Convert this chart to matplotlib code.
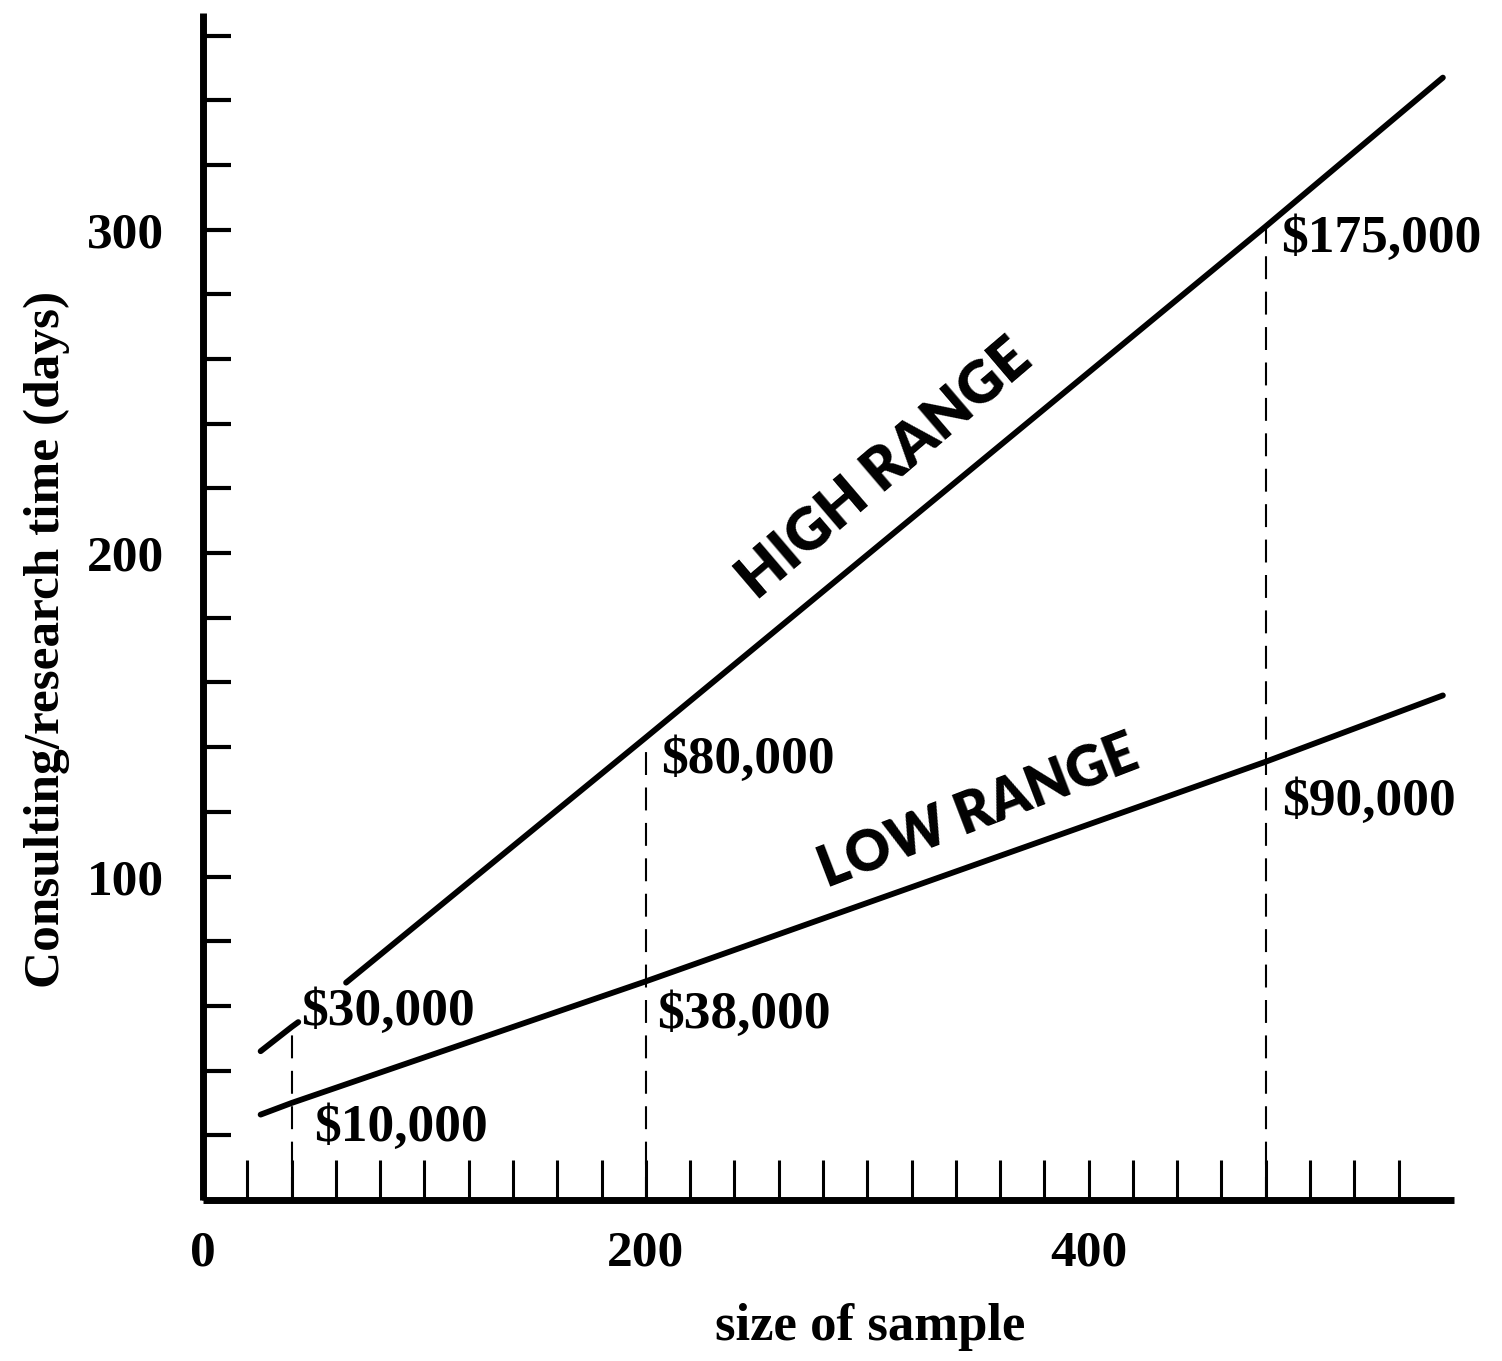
import numpy as np
import matplotlib
matplotlib.use("Agg")
import matplotlib.pyplot as plt

# ---- data ----
# high-range line is interrupted where the "$30,000" label sits
high_x = [26, 40, 43, np.nan, 64.6, 200, 480, 560]
high_days = [46, 53.5, 55, np.nan, 67.2, 143, 301, 347]
low_x = [26, 40, 200, 480, 560]
low_days = [26.4, 30, 67.6, 135.5, 156]

mark_x = [40, 200, 480]
mark_high = [53.5, 143, 301]
mark_low = [30, 67.6, 135.5]
high_cost = ["$30,000", "$80,000", "$175,000"]
low_cost = ["$10,000", "$38,000", "$90,000"]

x_major = [0, 200, 400]
x_minor = list(range(20, 560, 20))
y_major = [100, 200, 300]
y_minor = list(range(20, 380, 20))

SERIF = ["Liberation Serif", "DejaVu Serif"]
SANS = ["Lato", "DejaVu Sans"]

fig = plt.figure(figsize=(15.02, 13.61), dpi=100)
ax = fig.add_axes([0.1352, 0.1183, 0.968 - 0.1352, 0.9905 - 0.1183])
ax.set_xlim(0, 565)
ax.set_ylim(0, 367)

for s in ["top", "right"]:
    ax.spines[s].set_visible(False)
for s in ["left", "bottom"]:
    ax.spines[s].set_linewidth(5)
    ax.spines[s].set_capstyle("butt")

# lines
ax.plot(high_x, high_days, color="black", lw=4.2, solid_capstyle="round", zorder=3)
ax.plot(low_x, low_days, color="black", lw=4.2, solid_capstyle="round", zorder=3)

# dashed verticals
ax.vlines(mark_x, 0, mark_high, colors="black", lw=1.5,
          linestyles=(0, (11, 6)), zorder=2)

# cost labels
hi_off = [(7, 11), (11, -16), (11, -9)]
lo_off = [(16, -18), (8, -24), (12, -29)]
for xv, yv, t, off in zip(mark_x, mark_high, high_cost, hi_off):
    ax.annotate(t, (xv, yv), xytext=off, textcoords="offset points",
                ha="left", va="center", fontsize=38.5, fontweight="bold",
                family=SERIF, zorder=5)
for xv, yv, t, off in zip(mark_x, mark_low, low_cost, lo_off):
    ax.annotate(t, (xv, yv), xytext=off, textcoords="offset points",
                ha="left", va="center", fontsize=38.5, fontweight="bold",
                family=SERIF, zorder=5)

# range labels
ax.text(308, 226, "HIGH RANGE", rotation=40.5, rotation_mode="anchor",
        ha="center", va="center", fontsize=42, fontweight="heavy", family=SANS)
ax.text(350, 120, "LOW RANGE", rotation=21, rotation_mode="anchor",
        ha="center", va="center", fontsize=40, fontweight="heavy", family=SANS)

# ticks
ax.set_xticks(x_major)
ax.set_xticks(x_minor, minor=True)
ax.set_yticks(y_major)
ax.set_yticks(y_minor, minor=True)
ax.tick_params(axis="x", which="both", direction="in", length=29, width=2.2, pad=22)
ax.tick_params(axis="y", which="both", direction="in", length=20, width=3, pad=28)
for lab in ax.get_xticklabels() + ax.get_yticklabels():
    lab.set_fontfamily(SERIF)
    lab.set_fontweight("bold")
    lab.set_fontsize(37)

ax.set_xlabel("size of sample", fontsize=38, fontweight="bold", family=SERIF)
ax.xaxis.set_label_coords(0.533, -0.0865)
ax.set_ylabel("Consulting/research time (days)", fontsize=37, fontweight="bold", family=SERIF)
ax.yaxis.set_label_coords(-0.106, 0.472)

fig.savefig("out.png", dpi=100, facecolor="white")
